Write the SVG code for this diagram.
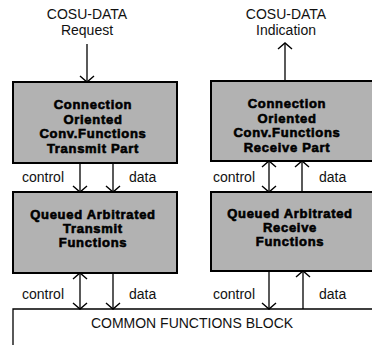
<svg xmlns="http://www.w3.org/2000/svg" width="372" height="345" viewBox="0 0 372 345">
<style>
.lbl{font-family:"Liberation Sans",Arial,sans-serif;font-size:14px;fill:#111}
.bt{font-family:"Liberation Sans",Arial,sans-serif;font-size:13px;font-weight:bold;fill:#000;stroke:#000;stroke-width:0.6;letter-spacing:0.7px;text-anchor:middle}
.box{fill:#b2b2b2;stroke:#000;stroke-width:2}
.ln{stroke:#000;stroke-width:1.3;fill:none}
</style>
<defs>
<marker id="arr" markerUnits="userSpaceOnUse" markerWidth="16" markerHeight="18" viewBox="-10 -9 12 18" refX="0" refY="0" orient="auto-start-reverse">
<path d="M-6,-7 L0,0 L-6,7" fill="none" stroke="#000" stroke-width="1.4"/>
</marker>
</defs>
<rect width="372" height="345" fill="#fff"/>
<g id="label-request">
<text class="lbl" x="87" y="19" text-anchor="middle">COSU-DATA</text>
<text class="lbl" x="87" y="35" text-anchor="middle">Request</text>
</g>
<g id="label-indication">
<text class="lbl" x="286" y="19" text-anchor="middle">COSU-DATA</text>
<text class="lbl" x="286" y="35" text-anchor="middle">Indication</text>
</g>
<g id="co-transmit">
<rect class="box" x="13" y="82" width="164" height="81"/>
<text class="bt" x="93" y="109">Connection</text>
<text class="bt" x="93" y="124">Oriented</text>
<text class="bt" x="93" y="138">Conv.Functions</text>
<text class="bt" x="93" y="153">Transmit Part</text>
</g>
<g id="co-receive">
<rect class="box" x="211" y="81" width="166" height="80"/>
<text class="bt" x="287" y="108">Connection</text>
<text class="bt" x="287" y="123">Oriented</text>
<text class="bt" x="287" y="137">Conv.Functions</text>
<text class="bt" x="287" y="152">Receive Part</text>
</g>
<g id="qa-transmit">
<rect class="box" x="13" y="192" width="164" height="81"/>
<text class="bt" x="93" y="219">Queued Arbitrated</text>
<text class="bt" x="93" y="233">Transmit</text>
<text class="bt" x="93" y="247">Functions</text>
</g>
<g id="qa-receive">
<rect class="box" x="211" y="192" width="166" height="79"/>
<text class="bt" x="290" y="218">Queued Arbitrated</text>
<text class="bt" x="290" y="232">Receive</text>
<text class="bt" x="290" y="246">Functions</text>
</g>
<g id="common-block">
<path class="ln" d="M13,345 L13,309 L372,309" stroke-width="1.5"/>
<text class="lbl" x="192" y="328" text-anchor="middle">COMMON FUNCTIONS BLOCK</text>
</g>
<g id="connectors">
<line class="ln" x1="87" y1="44" x2="87" y2="82" marker-end="url(#arr)"/>
<line class="ln" x1="285" y1="80" x2="285" y2="43" marker-end="url(#arr)"/>
<line class="ln" x1="80" y1="163" x2="80" y2="192" marker-end="url(#arr)"/>
<line class="ln" x1="113" y1="163" x2="113" y2="192" marker-end="url(#arr)"/>
<line class="ln" x1="80" y1="273" x2="80" y2="309" marker-start="url(#arr)" marker-end="url(#arr)"/>
<line class="ln" x1="113" y1="273" x2="113" y2="309" marker-end="url(#arr)"/>
<line class="ln" x1="269" y1="161" x2="269" y2="192" marker-start="url(#arr)" marker-end="url(#arr)"/>
<line class="ln" x1="302" y1="192" x2="302" y2="161" marker-end="url(#arr)"/>
<line class="ln" x1="269" y1="271" x2="269" y2="309" marker-end="url(#arr)"/>
<line class="ln" x1="303" y1="309" x2="303" y2="271" marker-end="url(#arr)"/>
</g>
<g id="connector-labels">
<text class="lbl" x="22" y="182">control</text>
<text class="lbl" x="129" y="182">data</text>
<text class="lbl" x="213" y="182">control</text>
<text class="lbl" x="319" y="182">data</text>
<text class="lbl" x="22" y="299">control</text>
<text class="lbl" x="129" y="299">data</text>
<text class="lbl" x="213" y="299">control</text>
<text class="lbl" x="319" y="299">data</text>
</g>
</svg>
